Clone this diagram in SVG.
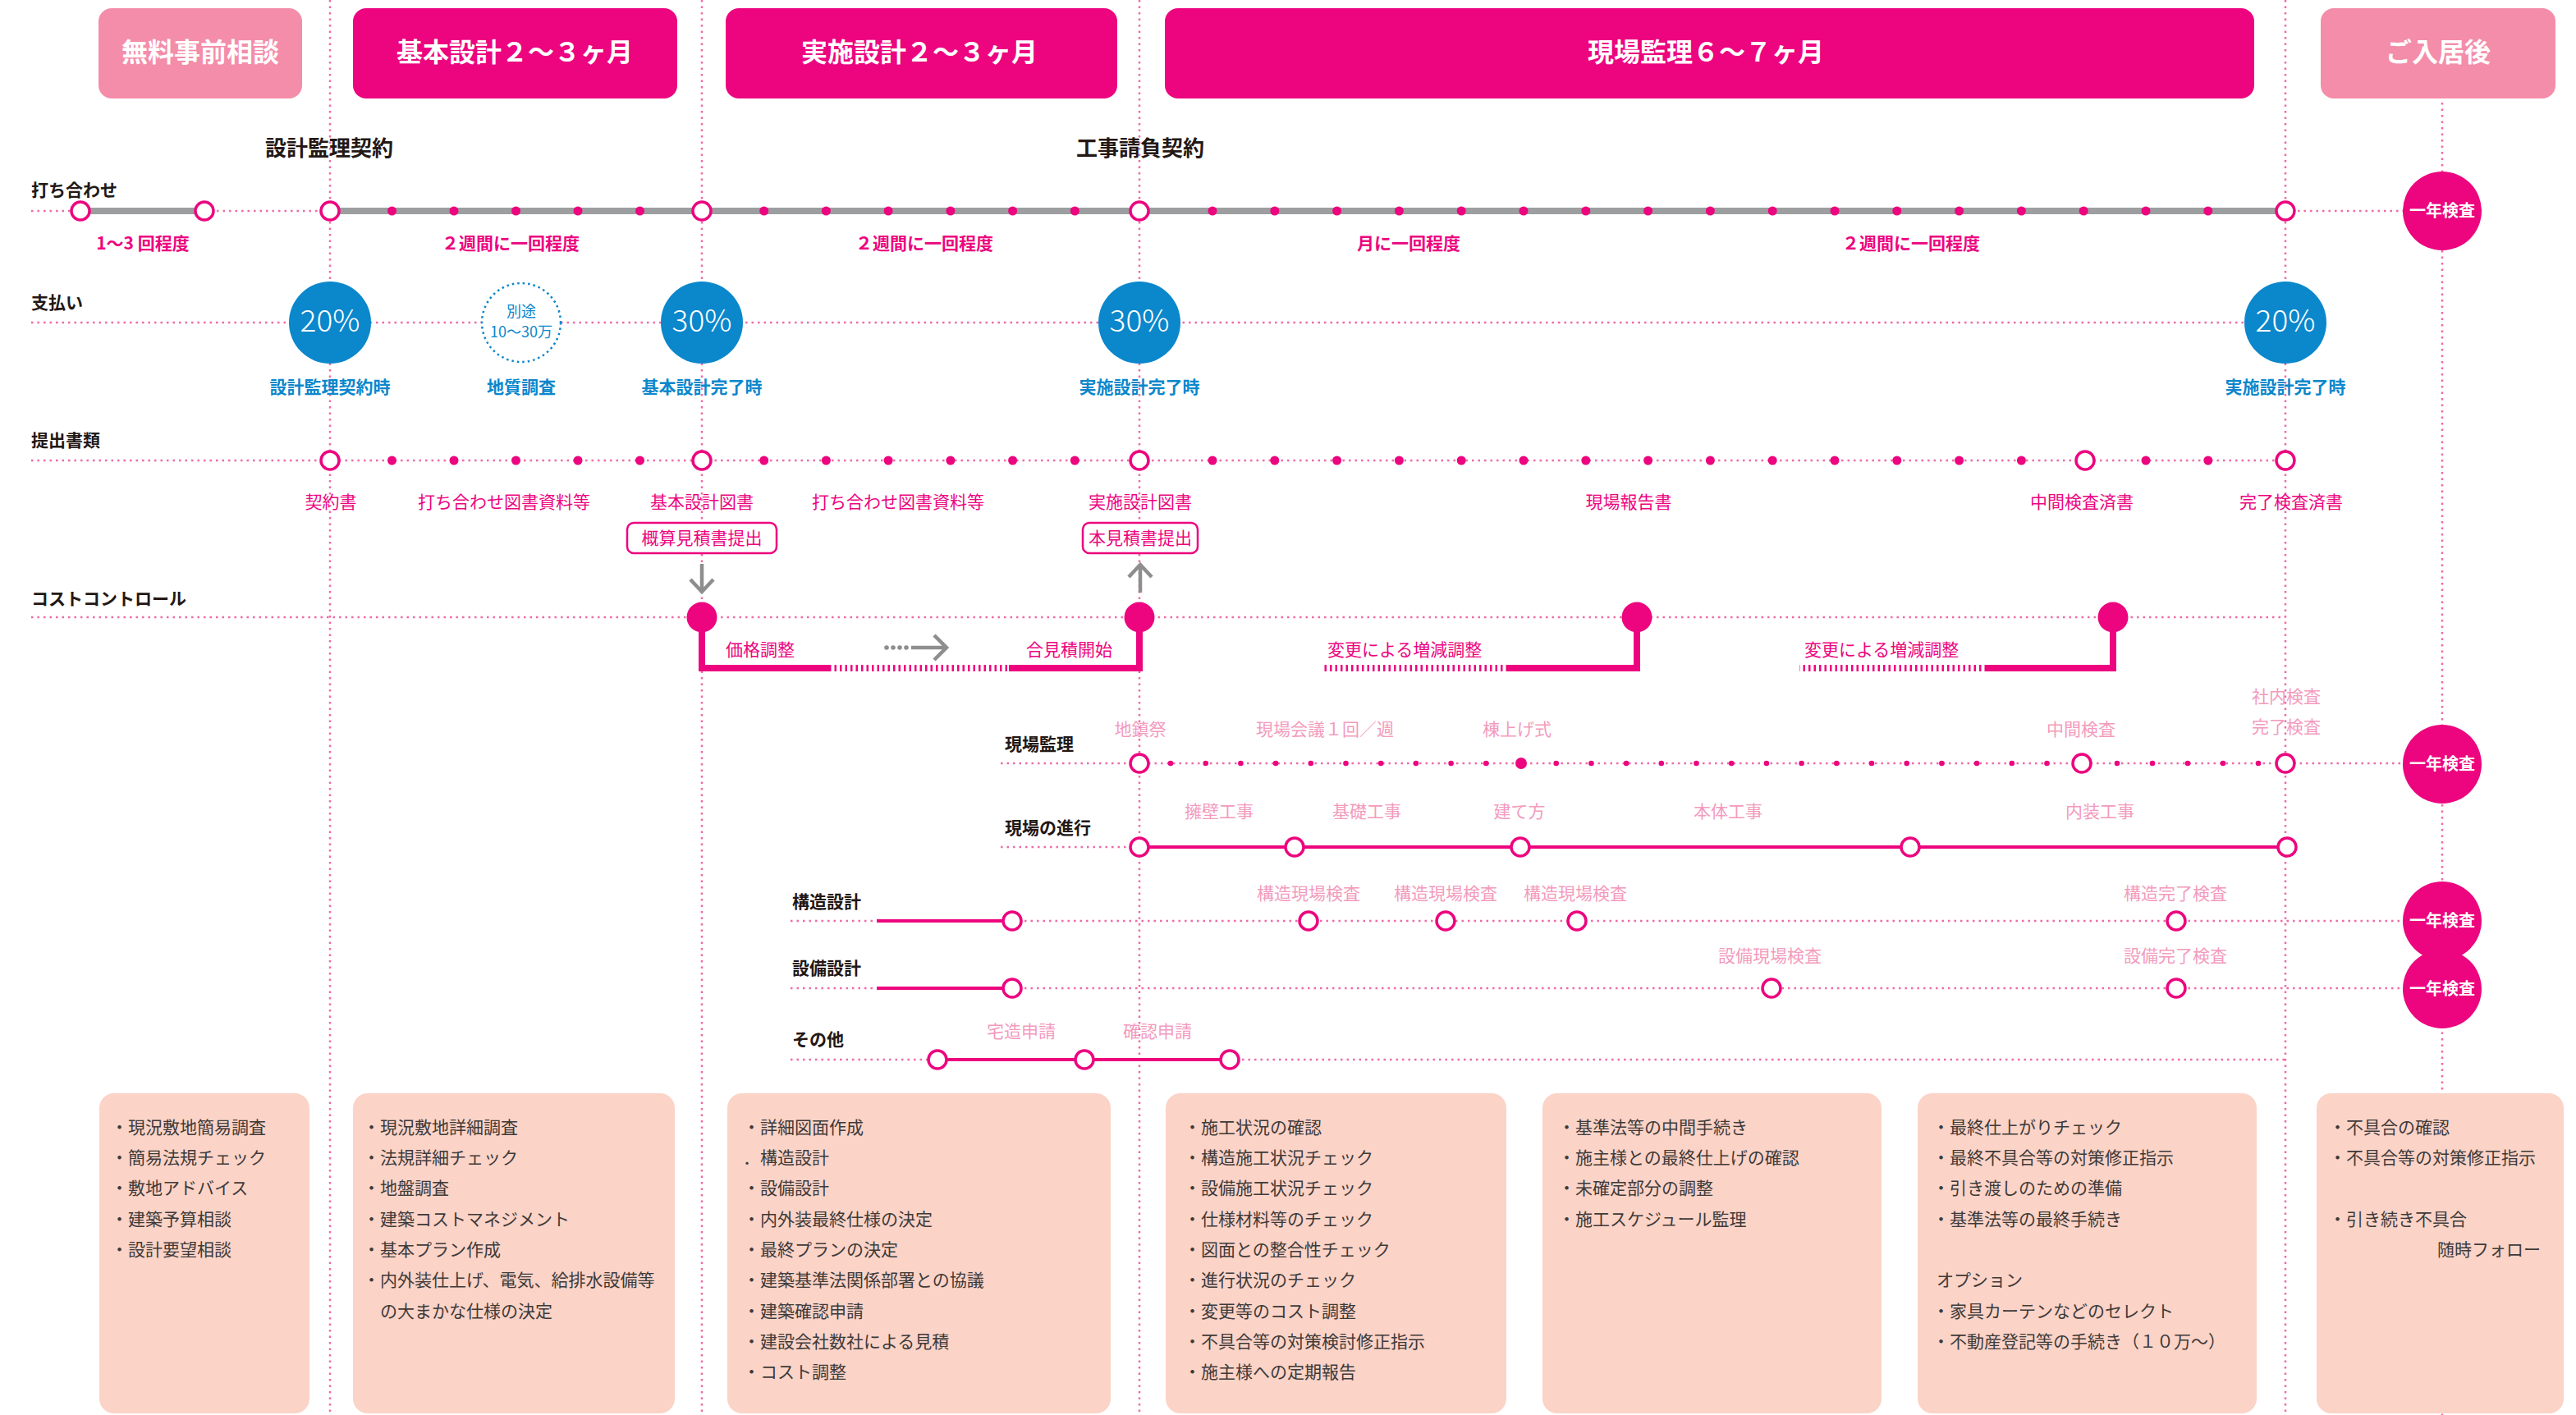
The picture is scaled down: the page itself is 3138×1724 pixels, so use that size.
<svg xmlns="http://www.w3.org/2000/svg" width="3138" height="1724" viewBox="0 0 3138 1724">
<style>
text{font-family:"Noto Sans CJK JP","Noto Sans",sans-serif}
.dl{fill:none;stroke:#EF6BA6;stroke-width:2.5;stroke-dasharray:2.5 5}
.oc{fill:#fff;stroke:#EC057F;stroke-width:3.5}
.fd{fill:#EC057F}
.hd{font-size:32px;font-weight:700;fill:#fff;text-anchor:middle}
.rl{font-size:21px;font-weight:700;fill:#231815}
.ct{font-size:26px;font-weight:700;fill:#231815;text-anchor:middle}
.pk{font-size:21px;font-weight:700;fill:#EC057F;text-anchor:middle}
.pm{font-size:21px;fill:#EC057F;text-anchor:middle}
.ps{font-size:21px;fill:#EC057F}
.lp{font-size:21px;fill:#F39BBD;text-anchor:middle}
.bl{font-size:21px;font-weight:700;fill:#0B87CC;text-anchor:middle}
.bn{font-size:18px;fill:#0B87CC;text-anchor:middle}
.pc{font-size:37px;font-weight:300;fill:#fff;text-anchor:middle}
.yk{font-size:20px;font-weight:700;fill:#fff;text-anchor:middle}
.bx{fill:#FBD3C7}
.bt{font-size:21px;fill:#3E3A39}
.gl{stroke:#9D9E9F;stroke-width:8;fill:none}
.cc{fill:none;stroke:#EC057F;stroke-width:8}
.cs{fill:none;stroke:#EC057F;stroke-width:8;stroke-dasharray:2.5 4}
.ar{fill:none;stroke:#8E8E8E;stroke-width:4.5}
.sl{fill:none;stroke:#EC057F;stroke-width:4}
.bc{fill:#0B87CC}
</style>

<g id="connectors">
  <path class="dl" d="M402 0 V1724 M855 0 V1724 M1388 0 V1724 M2784 0 V1724 M2975 125 V1724"/>
  <path class="dl" d="M38 257 H98 M249 257 H402 M2784 257 H2930"/>
  <path class="gl" d="M98 257 H249 M402 257 H2784"/>
  <path class="dl" d="M38 393 H2784"/>
  <path class="dl" d="M38 561 H2784"/>
  <path class="dl" d="M38 752 H2784"/>
  <path class="cc" d="M855 752 V814 H1010 M1229 814 H1388 V752"/>
  <path class="cs" d="M1010 814 H1229"/>
  <path class="cc" d="M1994 752 V814 H1837"/>
  <path class="cs" d="M1837 814 H1612"/>
  <path class="cc" d="M2574 752 V814 H2420"/>
  <path class="cs" d="M2420 814 H2192"/>
  <path class="ar" d="M855 687 V720 M841 706 L855 721 L869 706"/>
  <path class="ar" d="M1389 722 V688 M1375 703 L1389 688 L1403 703"/>
  <g fill="#8E8E8E"><circle cx="1080" cy="789" r="2.8"/><circle cx="1088" cy="789" r="2.8"/><circle cx="1096" cy="789" r="2.8"/><circle cx="1104" cy="789" r="2.8"/></g>
  <path class="ar" stroke-width="5" d="M1110 789 H1150 M1138 774 L1153 789 L1138 804"/>
  <path class="dl" d="M1219 930 H2975"/>
  <path class="dl" d="M1219 1032 H1388"/>
  <path class="sl" d="M1388 1032 H2786"/>
  <path class="dl" d="M963 1122 H1068 M1233 1122 H2975"/>
  <path class="sl" d="M1068 1122 H1233"/>
  <path class="dl" d="M963 1204 H1068 M1233 1204 H2975"/>
  <path class="sl" d="M1068 1204 H1233"/>
  <path class="dl" d="M963 1291 H1142 M1498 1291 H2784"/>
  <path class="sl" d="M1142 1291 H1498"/>
</g>

<g id="header">
  <g id="h1"><rect x="120" y="10" width="248" height="110" rx="16" fill="#F48DA9"/><text class="hd" x="244" y="75">無料事前相談</text></g>
  <g id="h2"><rect x="430" y="10" width="395" height="110" rx="16" fill="#EC057F"/><text class="hd" x="627" y="75">基本設計２〜３ヶ月</text></g>
  <g id="h3"><rect x="884" y="10" width="477" height="110" rx="16" fill="#EC057F"/><text class="hd" x="1120" y="75">実施設計２〜３ヶ月</text></g>
  <g id="h4"><rect x="1419" y="10" width="1327" height="110" rx="16" fill="#EC057F"/><text class="hd" x="2078" y="75">現場監理６〜７ヶ月</text></g>
  <g id="h5"><rect x="2827" y="10" width="286" height="110" rx="16" fill="#F48DA9"/><text class="hd" x="2970" y="75">ご入居後</text></g>
</g>

<g id="contracts">
  <text class="ct" x="401" y="190">設計監理契約</text>
  <text class="ct" x="1389" y="190">工事請負契約</text>
</g>

<g id="row-uchiawase">
  <text class="rl" x="38" y="239">打ち合わせ</text>
  <circle class="oc" cx="98" cy="257" r="11"/><circle class="oc" cx="249" cy="257" r="11"/>
  <circle class="oc" cx="402" cy="257" r="11"/><circle class="oc" cx="855" cy="257" r="11"/>
  <circle class="oc" cx="1388" cy="257" r="11"/><circle class="oc" cx="2784" cy="257" r="11"/>
  <g class="fd">
    <circle cx="477.5" cy="257" r="5.5"/><circle cx="553" cy="257" r="5.5"/><circle cx="628.5" cy="257" r="5.5"/><circle cx="704" cy="257" r="5.5"/><circle cx="779.5" cy="257" r="5.5"/>
    <circle cx="930.7" cy="257" r="5.5"/><circle cx="1006.4" cy="257" r="5.5"/><circle cx="1082.1" cy="257" r="5.5"/><circle cx="1157.9" cy="257" r="5.5"/><circle cx="1233.6" cy="257" r="5.5"/><circle cx="1309.3" cy="257" r="5.5"/>
    <circle cx="1477" cy="257" r="5.5"/><circle cx="1552.8" cy="257" r="5.5"/><circle cx="1628.6" cy="257" r="5.5"/><circle cx="1704.4" cy="257" r="5.5"/><circle cx="1780.2" cy="257" r="5.5"/><circle cx="1856" cy="257" r="5.5"/><circle cx="1931.8" cy="257" r="5.5"/><circle cx="2007.6" cy="257" r="5.5"/><circle cx="2083.4" cy="257" r="5.5"/><circle cx="2159.2" cy="257" r="5.5"/><circle cx="2235" cy="257" r="5.5"/><circle cx="2310.8" cy="257" r="5.5"/><circle cx="2386.6" cy="257" r="5.5"/><circle cx="2462.4" cy="257" r="5.5"/><circle cx="2538.2" cy="257" r="5.5"/><circle cx="2614" cy="257" r="5.5"/><circle cx="2689.8" cy="257" r="5.5"/>
  </g>
  <text class="pk" x="174" y="304">1〜3 回程度</text>
  <text class="pk" x="622" y="304">２週間に一回程度</text>
  <text class="pk" x="1126" y="304">２週間に一回程度</text>
  <text class="pk" x="1716" y="304">月に一回程度</text>
  <text class="pk" x="2328" y="304">２週間に一回程度</text>
</g>

<g id="row-payment">
  <text class="rl" x="38" y="376">支払い</text>
  <g id="pay1"><circle class="bc" cx="402" cy="393" r="50"/><text class="pc" x="402" y="404">20%</text><text class="bl" x="402" y="479">設計監理契約時</text></g>
  <g id="pay-geo"><circle cx="635" cy="393" r="48" fill="#fff" stroke="#0B87CC" stroke-width="2.5" stroke-dasharray="2.5 4"/><text class="bn" x="635" y="386">別途</text><text class="bn" x="635" y="411">10〜30万</text><text class="bl" x="635" y="479">地質調査</text></g>
  <g id="pay2"><circle class="bc" cx="855" cy="393" r="50"/><text class="pc" x="855" y="404">30%</text><text class="bl" x="855" y="479">基本設計完了時</text></g>
  <g id="pay3"><circle class="bc" cx="1388" cy="393" r="50"/><text class="pc" x="1388" y="404">30%</text><text class="bl" x="1388" y="479">実施設計完了時</text></g>
  <g id="pay4"><circle class="bc" cx="2784" cy="393" r="50"/><text class="pc" x="2784" y="404">20%</text><text class="bl" x="2784" y="479">実施設計完了時</text></g>
</g>

<g id="row-documents">
  <text class="rl" x="38" y="544">提出書類</text>
  <circle class="oc" cx="402" cy="561" r="11"/><circle class="oc" cx="855" cy="561" r="11"/>
  <circle class="oc" cx="1388" cy="561" r="11"/><circle class="oc" cx="2540" cy="561" r="11"/><circle class="oc" cx="2784" cy="561" r="11"/>
  <g class="fd">
    <circle cx="477.5" cy="561" r="5.5"/><circle cx="553" cy="561" r="5.5"/><circle cx="628.5" cy="561" r="5.5"/><circle cx="704" cy="561" r="5.5"/><circle cx="779.5" cy="561" r="5.5"/>
    <circle cx="930.7" cy="561" r="5.5"/><circle cx="1006.4" cy="561" r="5.5"/><circle cx="1082.1" cy="561" r="5.5"/><circle cx="1157.9" cy="561" r="5.5"/><circle cx="1233.6" cy="561" r="5.5"/><circle cx="1309.3" cy="561" r="5.5"/>
    <circle cx="1477" cy="561" r="5.5"/><circle cx="1552.8" cy="561" r="5.5"/><circle cx="1628.6" cy="561" r="5.5"/><circle cx="1704.4" cy="561" r="5.5"/><circle cx="1780.2" cy="561" r="5.5"/><circle cx="1856" cy="561" r="5.5"/><circle cx="1931.8" cy="561" r="5.5"/><circle cx="2007.6" cy="561" r="5.5"/><circle cx="2083.4" cy="561" r="5.5"/><circle cx="2159.2" cy="561" r="5.5"/><circle cx="2235" cy="561" r="5.5"/><circle cx="2310.8" cy="561" r="5.5"/><circle cx="2386.6" cy="561" r="5.5"/><circle cx="2462.4" cy="561" r="5.5"/><circle cx="2614" cy="561" r="5.5"/><circle cx="2689.8" cy="561" r="5.5"/>
  </g>
  <text class="pm" x="403" y="619">契約書</text>
  <text class="pm" x="614" y="619">打ち合わせ図書資料等</text>
  <text class="pm" x="855" y="619">基本設計図書</text>
  <text class="pm" x="1094" y="619">打ち合わせ図書資料等</text>
  <text class="pm" x="1389" y="619">実施設計図書</text>
  <text class="pm" x="1984" y="619">現場報告書</text>
  <text class="pm" x="2536" y="619">中間検査済書</text>
  <text class="pm" x="2791" y="619">完了検査済書</text>
  <g id="est1"><rect x="764" y="637" width="182" height="37" rx="8" fill="#fff" stroke="#EC057F" stroke-width="2.5"/><text class="pm" x="855" y="663">概算見積書提出</text></g>
  <g id="est2"><rect x="1319" y="637" width="140" height="37" rx="8" fill="#fff" stroke="#EC057F" stroke-width="2.5"/><text class="pm" x="1389" y="663">本見積書提出</text></g>
</g>

<g id="row-cost">
  <text class="rl" x="38" y="737">コストコントロール</text>
  <circle class="fd" cx="855" cy="752" r="18.5"/><circle class="fd" cx="1388" cy="752" r="18.5"/>
  <circle class="fd" cx="1994" cy="752" r="18.5"/><circle class="fd" cx="2574" cy="752" r="18.5"/>
  <text class="ps" x="884" y="799">価格調整</text>
  <text class="ps" x="1250" y="799">合見積開始</text>
  <text class="ps" x="1617" y="799">変更による増減調整</text>
  <text class="ps" x="2198" y="799">変更による増減調整</text>
</g>

<g id="row-kanri">
  <text class="rl" x="1224" y="914">現場監理</text>
  <g class="fd">
    <circle cx="1426" cy="930" r="3.3"/><circle cx="1468.7" cy="930" r="3.3"/><circle cx="1511.4" cy="930" r="3.3"/><circle cx="1554.1" cy="930" r="3.3"/><circle cx="1596.8" cy="930" r="3.3"/><circle cx="1639.5" cy="930" r="3.3"/><circle cx="1682.2" cy="930" r="3.3"/><circle cx="1724.9" cy="930" r="3.3"/><circle cx="1767.6" cy="930" r="3.3"/><circle cx="1810.3" cy="930" r="3.3"/><circle cx="1853" cy="930" r="7"/><circle cx="1895.7" cy="930" r="3.3"/><circle cx="1938.4" cy="930" r="3.3"/><circle cx="1981.1" cy="930" r="3.3"/><circle cx="2023.8" cy="930" r="3.3"/><circle cx="2066.5" cy="930" r="3.3"/><circle cx="2109.2" cy="930" r="3.3"/><circle cx="2151.9" cy="930" r="3.3"/><circle cx="2194.6" cy="930" r="3.3"/><circle cx="2237.3" cy="930" r="3.3"/><circle cx="2280" cy="930" r="3.3"/><circle cx="2322.7" cy="930" r="3.3"/><circle cx="2365.4" cy="930" r="3.3"/><circle cx="2408.1" cy="930" r="3.3"/><circle cx="2450.8" cy="930" r="3.3"/><circle cx="2493.5" cy="930" r="3.3"/><circle cx="2579" cy="930" r="3.3"/><circle cx="2622" cy="930" r="3.3"/><circle cx="2665" cy="930" r="3.3"/><circle cx="2708" cy="930" r="3.3"/><circle cx="2751" cy="930" r="3.3"/>
  </g>
  <circle class="oc" cx="1388" cy="930" r="11"/><circle class="oc" cx="2536" cy="930" r="11"/><circle class="oc" cx="2784" cy="930" r="11"/>
  <text class="lp" x="1389" y="896">地鎮祭</text>
  <text class="lp" x="1614" y="896">現場会議１回／週</text>
  <text class="lp" x="1848" y="896">棟上げ式</text>
  <text class="lp" x="2535" y="896">中間検査</text>
  <text class="lp" x="2785" y="856">社内検査</text>
  <text class="lp" x="2785" y="893">完了検査</text>
</g>

<g id="row-shinko">
  <text class="rl" x="1224" y="1016">現場の進行</text>
  <circle class="oc" cx="1388" cy="1032" r="11"/><circle class="oc" cx="1577" cy="1032" r="11"/><circle class="oc" cx="1852" cy="1032" r="11"/><circle class="oc" cx="2327" cy="1032" r="11"/><circle class="oc" cx="2786" cy="1032" r="11"/>
  <text class="lp" x="1485" y="996">擁壁工事</text>
  <text class="lp" x="1665" y="996">基礎工事</text>
  <text class="lp" x="1851" y="996">建て方</text>
  <text class="lp" x="2105" y="996">本体工事</text>
  <text class="lp" x="2558" y="996">内装工事</text>
</g>

<g id="row-kozo">
  <text class="rl" x="965" y="1106">構造設計</text>
  <circle class="oc" cx="1233" cy="1122" r="11"/><circle class="oc" cx="1594" cy="1122" r="11"/><circle class="oc" cx="1761" cy="1122" r="11"/><circle class="oc" cx="1921" cy="1122" r="11"/><circle class="oc" cx="2651" cy="1122" r="11"/>
  <text class="lp" x="1594" y="1096">構造現場検査</text>
  <text class="lp" x="1761" y="1096">構造現場検査</text>
  <text class="lp" x="1919" y="1096">構造現場検査</text>
  <text class="lp" x="2650" y="1096">構造完了検査</text>
</g>

<g id="row-setsubi">
  <text class="rl" x="965" y="1187">設備設計</text>
  <circle class="oc" cx="1233" cy="1204" r="11"/><circle class="oc" cx="2158" cy="1204" r="11"/><circle class="oc" cx="2651" cy="1204" r="11"/>
  <text class="lp" x="2156" y="1172">設備現場検査</text>
  <text class="lp" x="2650" y="1172">設備完了検査</text>
</g>

<g id="row-other">
  <text class="rl" x="965" y="1274">その他</text>
  <circle class="oc" cx="1142" cy="1291" r="11"/><circle class="oc" cx="1321" cy="1291" r="11"/><circle class="oc" cx="1498" cy="1291" r="11"/>
  <text class="lp" x="1244" y="1264">宅造申請</text>
  <text class="lp" x="1410" y="1264">確認申請</text>
</g>

<g id="inspections">
  <g id="y1"><circle class="fd" cx="2975" cy="257" r="48"/><text class="yk" x="2975" y="264">一年検査</text></g>
  <g id="y2"><circle class="fd" cx="2975" cy="931" r="48"/><text class="yk" x="2975" y="938">一年検査</text></g>
  <g id="y3"><circle class="fd" cx="2975" cy="1122" r="48"/><text class="yk" x="2975" y="1129">一年検査</text></g>
  <g id="y4"><circle class="fd" cx="2975" cy="1205" r="48"/><text class="yk" x="2975" y="1212">一年検査</text></g>
</g>

<g id="box1"><rect class="bx" x="121" y="1332" width="256" height="390" rx="18"/>
  <text class="bt" x="135" y="1381">・現況敷地簡易調査</text>
  <text class="bt" x="135" y="1418">・簡易法規チェック</text>
  <text class="bt" x="135" y="1455">・敷地アドバイス</text>
  <text class="bt" x="135" y="1493">・建築予算相談</text>
  <text class="bt" x="135" y="1530">・設計要望相談</text>
</g>
<g id="box2"><rect class="bx" x="430" y="1332" width="392" height="390" rx="18"/>
  <text class="bt" x="442" y="1381">・現況敷地詳細調査</text>
  <text class="bt" x="442" y="1418">・法規詳細チェック</text>
  <text class="bt" x="442" y="1455">・地盤調査</text>
  <text class="bt" x="442" y="1493">・建築コストマネジメント</text>
  <text class="bt" x="442" y="1530">・基本プラン作成</text>
  <text class="bt" x="442" y="1567">・内外装仕上げ、電気、給排水設備等</text>
  <text class="bt" x="463" y="1605">の大まかな仕様の決定</text>
</g>
<g id="box3"><rect class="bx" x="886" y="1332" width="467" height="390" rx="18"/>
  <text class="bt" x="905" y="1381">・詳細図面作成</text>
  <text class="bt" x="905" y="1418">．構造設計</text>
  <text class="bt" x="905" y="1455">・設備設計</text>
  <text class="bt" x="905" y="1493">・内外装最終仕様の決定</text>
  <text class="bt" x="905" y="1530">・最終プランの決定</text>
  <text class="bt" x="905" y="1567">・建築基準法関係部署との協議</text>
  <text class="bt" x="905" y="1605">・建築確認申請</text>
  <text class="bt" x="905" y="1642">・建設会社数社による見積</text>
  <text class="bt" x="905" y="1679">・コスト調整</text>
</g>
<g id="box4"><rect class="bx" x="1420" y="1332" width="415" height="390" rx="18"/>
  <text class="bt" x="1442" y="1381">・施工状況の確認</text>
  <text class="bt" x="1442" y="1418">・構造施工状況チェック</text>
  <text class="bt" x="1442" y="1455">・設備施工状況チェック</text>
  <text class="bt" x="1442" y="1493">・仕様材料等のチェック</text>
  <text class="bt" x="1442" y="1530">・図面との整合性チェック</text>
  <text class="bt" x="1442" y="1567">・進行状況のチェック</text>
  <text class="bt" x="1442" y="1605">・変更等のコスト調整</text>
  <text class="bt" x="1442" y="1642">・不具合等の対策検討修正指示</text>
  <text class="bt" x="1442" y="1679">・施主様への定期報告</text>
</g>
<g id="box5"><rect class="bx" x="1879" y="1332" width="413" height="390" rx="18"/>
  <text class="bt" x="1898" y="1381">・基準法等の中間手続き</text>
  <text class="bt" x="1898" y="1418">・施主様との最終仕上げの確認</text>
  <text class="bt" x="1898" y="1455">・未確定部分の調整</text>
  <text class="bt" x="1898" y="1493">・施工スケジュール監理</text>
</g>
<g id="box6"><rect class="bx" x="2336" y="1332" width="413" height="390" rx="18"/>
  <text class="bt" x="2354" y="1381">・最終仕上がりチェック</text>
  <text class="bt" x="2354" y="1418">・最終不具合等の対策修正指示</text>
  <text class="bt" x="2354" y="1455">・引き渡しのための準備</text>
  <text class="bt" x="2354" y="1493">・基準法等の最終手続き</text>
  <text class="bt" x="2359" y="1567">オプション</text>
  <text class="bt" x="2354" y="1605">・家具カーテンなどのセレクト</text>
  <text class="bt" x="2354" y="1642">・不動産登記等の手続き（１０万〜）</text>
</g>
<g id="box7"><rect class="bx" x="2822" y="1332" width="301" height="390" rx="18"/>
  <text class="bt" x="2837" y="1381">・不具合の確認</text>
  <text class="bt" x="2837" y="1418">・不具合等の対策修正指示</text>
  <text class="bt" x="2837" y="1493">・引き続き不具合</text>
  <text class="bt" x="2969" y="1530">随時フォロー</text>
</g>
</svg>
